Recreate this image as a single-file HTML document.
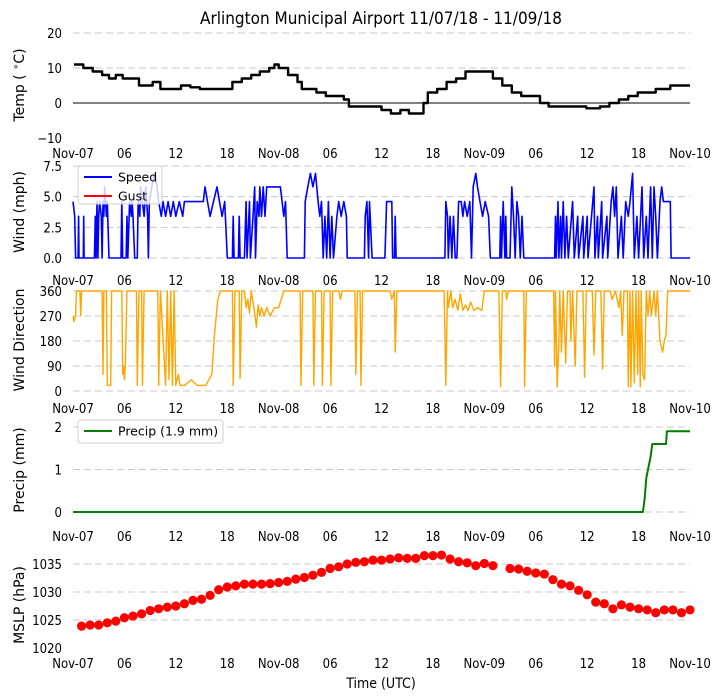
<!DOCTYPE html>
<html><head><meta charset="utf-8">
<style>
html,body{margin:0;padding:0;background:#fff;}
svg{display:block;font-family:"DejaVu Sans","Liberation Sans",sans-serif;}
.tk{font-size:13px;fill:#000;font-stretch:condensed;}
.yl{font-size:14px;fill:#000;}
</style></head>
<body>
<svg id="chart" width="722" height="700" viewBox="0 0 722 700" xmlns="http://www.w3.org/2000/svg">
<text x="381" y="24" text-anchor="middle" font-size="17" style="font-stretch:condensed">Arlington Municipal Airport 11/07/18 - 11/09/18</text>
<text x="381" y="688" text-anchor="middle" font-size="14" style="font-stretch:condensed">Time (UTC)</text>
</svg>
<script>
const xTickLabels = ["Nov-07","06","12","18","Nov-08","06","12","18","Nov-09","06","12","18","Nov-10"];
const tempT = [0.1,1.2,2.3,3.4,4.2,5,5.8,7.2,7.7,8.8,9.3,10.2,11.5,12.6,13.7,14.8,15.9,17.5,18.6,19.7,20.8,21.8,22.9,23.5,24,25.1,26.2,26.7,27.3,28.4,29.5,30.5,31.6,32.2,33.8,34.9,36,37.1,38.2,39.2,40.3,40.9,41.4,42.5,43.6,44.7,45.8,47.9,49,50.1,51.2,52.3,53.9,54.5,55.5,57.7,59.9,61.5,62.6,63.7,64.8,65.9,67,68,69.7,72];
const tempV = [11,10,9,8,7,8,7,7,5,5,6,4,4,5,4.5,4,4,4,6,7,8,9,10,11,10,8,6,4,4,3,2,2,1,-1,-1,-1,-2,-3,-2,-3,-3,0,3,4,6,7,9,9,7,5,3,2,2,0,-1,-1,-1.5,-1,0,1,2,3,3,4,5,5];
const speedT = [0,.2,.3,.6,.65,.7,1.2,1.25,1.3,2.5,2.6,2.7,2.8,2.9,3.0,3.1,3.3,3.4,3.5,3.6,3.7,3.8,3.9,4.0,4.2,5.6,5.7,5.8,6.2,6.3,6.4,6.6,6.8,6.9,7.0,7.2,7.5,7.6,7.8,7.9,8.1,8.3,8.5,8.7,8.8,8.9,9.2,9.5,9.8,10.0,10.3,10.5,10.8,11.1,11.4,11.7,12.0,12.4,12.8,13.0,15.2,15.4,15.7,16.0,16.4,16.8,17.1,17.4,17.7,18.0,18.6,18.7,18.8,19.3,19.4,19.5,20.0,20.2,20.3,20.6,20.7,21.0,21.2,21.3,21.5,21.7,21.8,22.0,22.2,22.4,22.6,24.2,24.4,24.6,24.8,25.0,27.0,27.1,27.4,27.7,28.0,28.3,28.6,28.8,29.0,29.2,29.4,29.6,29.8,30.0,30.2,30.4,30.8,31.0,31.3,31.6,31.9,32.0,34.0,34.1,34.3,34.5,34.6,34.9,36.4,36.6,37.2,37.3,37.5,37.6,37.7,43.4,43.5,43.7,43.8,44.0,44.2,44.4,44.6,44.8,45.0,45.3,45.5,45.7,46.0,46.3,46.5,46.7,47.0,47.2,47.5,47.8,48.1,48.5,48.7,49.8,49.9,50.0,50.2,50.4,50.5,50.6,51.0,51.2,51.4,51.6,51.8,52.0,52.2,52.4,52.6,56.2,56.3,56.4,56.6,56.7,56.9,57.0,57.2,57.4,57.6,57.8,58.3,58.5,58.9,59.0,59.5,59.6,60.0,60.1,60.8,60.9,61.2,61.3,61.7,61.8,62.3,62.4,62.8,63.0,63.2,63.4,63.6,64.0,64.2,64.5,64.8,65.0,65.3,65.5,65.8,66.0,66.4,66.6,66.9,67.1,67.4,67.6,67.8,68.0,68.2,68.5,68.7,68.9,69.7,69.8,72];
const speedV = [4.6,3.4,0,0,3.4,0,0,3.4,0,0,3.4,0,4.6,0,3.4,4.6,3.4,0,4.6,3.4,5.8,4.6,3.4,4.6,0,0,4.6,0,0,3.4,0,4.6,3.4,4.6,3.4,0,0,4.6,3.4,5.8,4.6,3.4,5.8,3.4,0,4.6,5.8,6.9,5.8,4.6,3.4,4.6,3.4,4.6,3.4,4.6,3.4,4.6,3.4,4.6,4.6,5.8,4.6,3.4,4.6,5.8,4.6,3.4,4.6,0,0,3.4,0,0,3.4,0,0,4.6,0,4.6,0,3.4,5.8,0,4.6,3.4,5.8,3.4,5.8,3.4,5.8,5.8,4.6,3.4,4.6,0,0,4.6,5.8,6.9,5.8,6.9,4.6,3.4,4.6,0,3.4,0,4.6,0,3.4,0,3.4,4.6,3.4,4.6,3.4,0,0,3.4,4.6,0,4.6,0,0,4.6,4.6,0,0,3.4,0,0,4.6,3.4,0,3.4,0,3.4,0,0,4.6,4.6,3.4,4.6,3.4,4.6,0,5.8,6.9,5.8,4.6,3.4,4.6,3.4,0,0,3.4,0,4.6,0,3.4,0,0,5.8,3.4,0,4.6,3.4,0,3.4,0,0,3.4,0,4.6,0,3.4,0,4.6,0,3.4,0,4.6,0,3.4,0,3.4,0,3.4,0,5.8,0,3.4,0,4.6,0,3.4,0,4.6,5.8,3.4,5.8,0,3.4,0,4.6,3.4,4.6,6.9,0,3.4,0,5.8,0,3.4,0,5.8,0,5.8,3.4,0,4.6,5.8,4.6,4.6,0,0];
const dirT = [0,0.1,0.3,0.4,0.8,0.9,1.0,3.4,3.5,3.6,3.9,4.0,4.4,4.5,5.7,5.8,5.9,6.0,6.1,6.3,7.4,7.5,7.7,8.0,8.1,8.3,9.9,10.0,10.2,10.8,11.0,11.2,11.4,11.6,11.8,12.0,12.3,12.5,13.0,13.8,14.5,15.5,16.2,16.5,16.9,17.2,18.6,18.7,18.9,19.4,19.5,19.7,20.0,20.2,20.4,20.6,20.8,21.2,21.4,21.6,21.8,22.0,22.3,22.6,23.0,23.5,24.0,24.3,24.6,26.5,26.6,26.8,28.0,28.1,28.3,29.0,29.1,29.3,30.0,30.1,30.3,31.0,31.2,31.4,32.9,33.0,33.2,33.5,33.6,33.8,37.0,37.2,37.5,37.6,37.8,43.3,43.5,43.7,43.8,44.1,44.3,44.6,44.9,45.2,45.5,45.8,46.1,46.4,46.8,47.2,47.7,48.0,49.7,49.9,50.1,50.5,50.6,50.8,52.6,52.7,52.9,56.1,56.2,56.3,56.5,56.7,56.8,57.0,57.2,57.5,57.7,58.0,58.1,58.3,58.6,58.8,59.5,59.7,59.9,60.6,60.8,61.0,61.6,61.8,62.0,62.7,62.9,63.3,63.7,63.9,64.1,64.3,64.7,64.8,65.0,65.1,65.3,65.5,65.7,65.9,66.0,66.2,66.3,66.5,66.7,66.9,67.1,67.3,67.5,67.8,68.0,68.2,68.5,68.8,69.0,69.2,69.4,72];
const dirV = [270,250,270,360,360,270,360,360,60,360,360,20,20,360,360,60,90,40,90,360,360,20,360,360,20,360,360,20,360,20,360,40,360,20,360,20,60,20,20,40,20,20,60,200,330,360,360,20,360,360,45,360,360,300,330,280,360,280,230,310,270,300,270,300,270,300,300,330,360,360,20,360,360,20,360,360,20,360,360,20,360,360,330,360,360,60,360,360,20,360,360,330,360,140,360,360,20,360,300,360,300,330,290,350,290,310,290,320,290,300,290,360,360,15,360,360,330,360,360,15,360,360,90,360,15,180,360,140,360,100,360,360,180,360,90,360,360,50,360,360,130,360,360,80,360,360,330,360,300,360,200,360,360,15,360,15,360,30,360,60,360,15,360,60,40,360,270,360,270,360,270,360,180,140,180,200,360,360];
const precipT = [0,66.5,66.7,66.9,67.1,67.4,67.6,69.2,69.3,72];
const precipV = [0,0,0.3,0.8,1.0,1.3,1.6,1.6,1.9,1.9];
const mslpT = [1,2,3,4,5,6,7,8,9,10,11,12,13,14,15,16,17,18,19,20,21,22,23,24,25,26,27,28,29,30,31,32,33,34,35,36,37,38,39,40,41,42,43,44,45,46,47,48,49,51,52,53,54,55,56,57,58,59,60,61,62,63,64,65,66,67,68,69,70,71,72];
const mslpV = [1023.9,1024.1,1024.1,1024.5,1024.8,1025.4,1025.7,1026.1,1026.7,1027.0,1027.3,1027.5,1027.9,1028.5,1028.7,1029.4,1030.4,1030.9,1031.1,1031.4,1031.4,1031.4,1031.5,1031.7,1031.9,1032.3,1032.6,1033.0,1033.5,1034.2,1034.5,1035.0,1035.3,1035.4,1035.7,1035.7,1035.9,1036.1,1036.0,1036.0,1036.5,1036.5,1036.6,1035.9,1035.4,1035.2,1034.7,1035.1,1034.7,1034.2,1034.1,1033.7,1033.4,1033.2,1032.2,1031.4,1031.1,1030.3,1029.5,1028.2,1027.9,1027.0,1027.7,1027.3,1027.0,1026.8,1026.3,1026.8,1026.8,1026.3,1026.8];

const svg = document.getElementById('chart');
const NS = 'http://www.w3.org/2000/svg';
const X0 = 73, X1 = 690, HRS = 72;
function xs(h){ return X0 + h/HRS*(X1-X0); }
function mk(tag, attrs, parent){ const e=document.createElementNS(NS,tag); for(const k in attrs) e.setAttribute(k,attrs[k]); (parent||svg).appendChild(e); return e; }

function panel(name, vmin, vmax, ytop, ybot, ticks, tickLabels, gridTicks, xLabelY, ylabelY){
  const g = mk('g',{});
  
  
  const ys = v => ybot - (v - vmin)/(vmax - vmin)*(ybot - ytop);
  gridTicks.forEach(v=>{
    const l = mk('line',{x1:X0,x2:X1,y1:ys(v),y2:ys(v),stroke:'#c8c8c8','stroke-width':1,'stroke-dasharray':'7,4'},g);
    
    
  });
  ticks.forEach((v,i)=>{
    const t = mk('text',{x:62,y:ys(v)+5,'text-anchor':'end','class':'tk'},g);
    t.textContent = tickLabels[i];
    
    
  });
  xTickLabels.forEach((s,i)=>{
    const t = mk('text',{x:xs(i*6),y:xLabelY,'text-anchor':'middle','class':'tk'},g);
    t.textContent = s;
    
    
  });
  const yl = mk('text',{x:0,y:0,'text-anchor':'middle','class':'yl',transform:`translate(24,${ylabelY}) rotate(-90)`},g);
  
  
  return {g, ys, yl};
}
function line(p, name, T, V, color, w, step){
  let d = '';
  T.forEach((t,i)=>{
    const x = xs(t).toFixed(1), y = p.ys(V[i]).toFixed(1);
    if(i===0) d += 'M'+x+','+y;
    else if(step) d += 'H'+x+'V'+y;
    else d += 'L'+x+','+y;
  });
  const e = mk('path',{d, fill:'none', stroke:color, 'stroke-width':w, 'stroke-linejoin':'round'}, p.g);
  
  
  return e;
}

// Temp
const pT = panel('temp', -10, 20, 33, 138, [20,10,0,-10], ['20','10','0','\u221210'], [20,10], 158, 85);
pT.yl.innerHTML = 'Temp ( <tspan font-size="10" dy="-5">\u2218</tspan><tspan dy="5">C)</tspan>';
const zl = mk('line',{x1:X0,x2:X1,y1:pT.ys(0),y2:pT.ys(0),stroke:'#000','stroke-width':1},pT.g);


line(pT, 'temp-line', tempT, tempV, '#000', 2.4, true);

// Wind speed
const pW = panel('wind-speed', 0, 7.5, 166, 258, [7.5,5,2.5,0], ['7.5','5.0','2.5','0.0'], [7.5,5,2.5,0], 285, 212);
pW.yl.textContent = 'Wind (mph)';
line(pW, 'wind-speed-line', speedT, speedV, '#0000ff', 1.6);

// Wind dir
const pD = panel('wind-dir', 0, 360, 291, 391, [360,270,180,90,0], ['360','270','180','90','0'], [360,270,180,90,0], 413, 340);
pD.yl.textContent = 'Wind Direction';
line(pD, 'wind-direction-line', dirT, dirV, '#ffa500', 1.4);

// Precip
const pP = panel('precip', 0, 2, 427, 512, [2,1,0], ['2','1','0'], [2,1,0], 541, 470);
pP.yl.textContent = 'Precip (mm)';
line(pP, 'precip-line', precipT, precipV, '#008000', 2);

// MSLP
const pM = panel('mslp', 1020, 1035, 564, 648, [1035,1030,1025,1020], ['1035','1030','1025','1020'], [1035,1030,1025], 668, 605);
pM.yl.textContent = 'MSLP (hPa)';
mslpT.forEach((t,i)=>{
  const c = mk('circle',{cx:xs(t),cy:pM.ys(mslpV[i]),r:4.6,fill:'#ff0000'},pM.g);
  
  
});

// Legends
function legend(name, x, y, w, h, items){
  const g = mk('g',{});
  
  
  mk('rect',{x,y,width:w,height:h,rx:3,fill:'rgba(255,255,255,0.8)',stroke:'#d0d0d0'},g);
  items.forEach((it,i)=>{
    const ly = y + 11 + i*19;
    const l = mk('line',{x1:x+6,x2:x+34,y1:ly,y2:ly,stroke:it[1],'stroke-width':2},g);
    
    
    const t = mk('text',{x:x+40,y:ly+4.5,'font-size':12.5},g);
    t.textContent = it[0];
    
    
  });
}
legend('wind-legend', 78, 166, 84, 38, [['Speed','#0000ff'],['Gust','#ff0000']]);
legend('precip-legend', 78, 420, 145, 23, [['Precip (1.9 mm)','#008000']]);
</script>
</body></html>
